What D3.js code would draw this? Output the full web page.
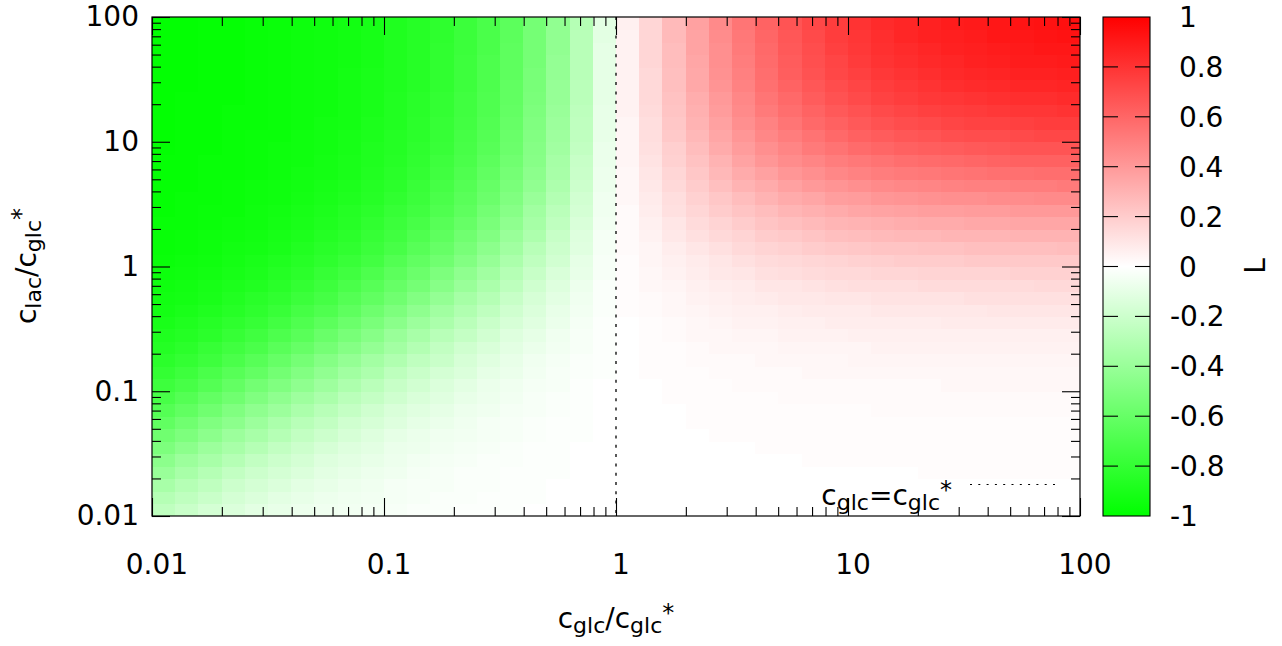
<!DOCTYPE html>
<html>
<head>
<meta charset="utf-8">
<script src="https://cdn.jsdelivr.net/npm/d3@7"></script>
<style>
  body { margin: 0; background: #fff; }
  text { font-family: "DejaVu Sans", sans-serif; fill: #000; white-space: pre; }
</style>
</head>
<body>
<script>
// cell edges, shared by c_glc/c_glc* (x) and c_lac/c_glc* (y), 0.1 decade each
var cellEdges = [0.01, 0.01259, 0.01585, 0.01995, 0.02512, 0.03162, 0.03981, 0.05012, 0.06310, 0.07943,
  0.1, 0.1259, 0.1585, 0.1995, 0.2512, 0.3162, 0.3981, 0.5012, 0.6310, 0.7943,
  1, 1.259, 1.585, 1.995, 2.512, 3.162, 3.981, 5.012, 6.310, 7.943,
  10, 12.59, 15.85, 19.95, 25.12, 31.62, 39.81, 50.12, 63.10, 79.43, 100];

var xTickValues = [0.01, 0.1, 1, 10, 100];
var xTickLabels = [" 0.01", " 0.1", " 1", " 10", " 100"];
var yTickValues = [0.01, 0.1, 1, 10, 100];
var yTickLabels = [" 0.01", " 0.1", " 1", " 10", " 100"];
var cbTickValues = [-1, -0.8, -0.6, -0.4, -0.2, 0, 0.2, 0.4, 0.6, 0.8, 1];
var cbTickLabels = ["-1", "-0.8", "-0.6", "-0.4", "-0.2", " 0", " 0.2", " 0.4", " 0.6", " 0.8", " 1"];

// L, one array per x column (left to right), values bottom to top
var Lcols = [
  [-.25,-.29,-.34,-.40,-.45,-.51,-.56,-.62,-.67,-.72,-.76,-.80,-.83,-.86,-.88,-.90,-.92,-.93,-.94,-.95,-.96,-.97,-.97,-.97,-.98,-.98,-.98,-.98,-.98,-.99,-.99,-.99,-.99,-.99,-.99,-.99,-.99,-.99,-.99,-.99],
  [-.21,-.25,-.29,-.34,-.39,-.45,-.51,-.56,-.62,-.67,-.72,-.76,-.80,-.83,-.86,-.88,-.90,-.92,-.93,-.94,-.95,-.96,-.96,-.97,-.97,-.97,-.98,-.98,-.98,-.98,-.98,-.98,-.98,-.98,-.99,-.99,-.99,-.99,-.99,-.99],
  [-.17,-.21,-.25,-.29,-.34,-.39,-.45,-.50,-.56,-.61,-.67,-.71,-.76,-.79,-.83,-.85,-.88,-.90,-.91,-.93,-.94,-.95,-.95,-.96,-.96,-.97,-.97,-.97,-.97,-.98,-.98,-.98,-.98,-.98,-.98,-.98,-.98,-.98,-.98,-.98],
  [-.14,-.17,-.20,-.24,-.29,-.34,-.39,-.45,-.50,-.56,-.61,-.66,-.71,-.75,-.79,-.82,-.85,-.87,-.89,-.91,-.92,-.93,-.94,-.95,-.96,-.96,-.96,-.97,-.97,-.97,-.97,-.97,-.97,-.98,-.98,-.98,-.98,-.98,-.98,-.98],
  [-.11,-.14,-.17,-.20,-.24,-.29,-.34,-.39,-.44,-.50,-.55,-.61,-.66,-.71,-.75,-.79,-.82,-.84,-.87,-.89,-.90,-.92,-.93,-.94,-.94,-.95,-.95,-.96,-.96,-.96,-.96,-.97,-.97,-.97,-.97,-.97,-.97,-.97,-.97,-.97],
  [-.09,-.11,-.14,-.17,-.20,-.24,-.29,-.33,-.39,-.44,-.50,-.55,-.60,-.65,-.70,-.74,-.78,-.81,-.84,-.86,-.88,-.90,-.91,-.92,-.93,-.94,-.94,-.95,-.95,-.95,-.96,-.96,-.96,-.96,-.96,-.96,-.96,-.96,-.96,-.96],
  [-.07,-.09,-.11,-.14,-.17,-.20,-.24,-.28,-.33,-.38,-.44,-.49,-.54,-.60,-.65,-.69,-.73,-.77,-.80,-.83,-.85,-.87,-.89,-.90,-.91,-.92,-.93,-.93,-.94,-.94,-.94,-.95,-.95,-.95,-.95,-.95,-.95,-.95,-.95,-.95],
  [-.06,-.07,-.09,-.11,-.13,-.16,-.20,-.24,-.28,-.33,-.38,-.43,-.48,-.54,-.59,-.64,-.69,-.73,-.76,-.79,-.82,-.84,-.86,-.88,-.89,-.90,-.91,-.92,-.92,-.93,-.93,-.93,-.94,-.94,-.94,-.94,-.94,-.94,-.94,-.94],
  [-.05,-.06,-.07,-.09,-.11,-.13,-.16,-.19,-.23,-.27,-.32,-.37,-.42,-.48,-.53,-.58,-.63,-.67,-.71,-.75,-.78,-.81,-.83,-.85,-.86,-.88,-.89,-.90,-.90,-.91,-.91,-.92,-.92,-.92,-.92,-.92,-.93,-.93,-.93,-.93],
  [-.04,-.05,-.06,-.07,-.09,-.11,-.13,-.16,-.19,-.23,-.27,-.32,-.36,-.42,-.47,-.52,-.57,-.62,-.66,-.70,-.74,-.77,-.79,-.81,-.83,-.85,-.86,-.87,-.88,-.88,-.89,-.89,-.90,-.90,-.90,-.90,-.91,-.91,-.91,-.91],
  [-.03,-.04,-.04,-.06,-.07,-.08,-.10,-.13,-.15,-.19,-.22,-.26,-.31,-.36,-.40,-.46,-.51,-.56,-.60,-.64,-.68,-.72,-.75,-.77,-.79,-.81,-.83,-.84,-.85,-.86,-.86,-.87,-.87,-.87,-.88,-.88,-.88,-.88,-.88,-.88],
  [-.02,-.03,-.03,-.04,-.05,-.07,-.08,-.10,-.12,-.15,-.18,-.21,-.25,-.30,-.34,-.39,-.44,-.49,-.54,-.58,-.62,-.66,-.69,-.72,-.75,-.77,-.78,-.80,-.81,-.82,-.83,-.83,-.84,-.84,-.85,-.85,-.85,-.85,-.85,-.85],
  [-.02,-.02,-.03,-.03,-.04,-.05,-.06,-.08,-.10,-.12,-.14,-.17,-.21,-.24,-.28,-.33,-.37,-.42,-.47,-.51,-.56,-.60,-.63,-.66,-.69,-.71,-.73,-.75,-.76,-.78,-.79,-.79,-.80,-.80,-.81,-.81,-.81,-.81,-.82,-.82],
  [-.01,-.02,-.02,-.02,-.03,-.04,-.05,-.06,-.07,-.09,-.11,-.14,-.16,-.19,-.23,-.27,-.31,-.35,-.40,-.44,-.49,-.53,-.56,-.60,-.63,-.65,-.67,-.69,-.71,-.72,-.73,-.74,-.75,-.75,-.76,-.76,-.76,-.77,-.77,-.77],
  [-.01,-.01,-.02,-.02,-.02,-.03,-.04,-.04,-.06,-.07,-.08,-.10,-.12,-.15,-.18,-.21,-.25,-.29,-.33,-.37,-.41,-.45,-.49,-.52,-.55,-.58,-.60,-.62,-.64,-.66,-.67,-.68,-.69,-.69,-.70,-.70,-.70,-.71,-.71,-.71],
  [-.01,-.01,-.01,-.01,-.02,-.02,-.03,-.03,-.04,-.05,-.06,-.08,-.09,-.11,-.13,-.16,-.19,-.22,-.26,-.29,-.33,-.37,-.40,-.44,-.47,-.50,-.52,-.54,-.56,-.58,-.59,-.60,-.61,-.62,-.62,-.63,-.63,-.63,-.64,-.64],
  [0,-.01,-.01,-.01,-.01,-.01,-.02,-.02,-.03,-.03,-.04,-.05,-.06,-.08,-.10,-.12,-.14,-.16,-.19,-.22,-.25,-.28,-.32,-.35,-.37,-.40,-.43,-.45,-.47,-.48,-.49,-.50,-.51,-.52,-.53,-.53,-.54,-.54,-.54,-.54],
  [0,0,0,-.01,-.01,-.01,-.01,-.01,-.02,-.02,-.03,-.03,-.04,-.05,-.06,-.08,-.09,-.11,-.13,-.15,-.18,-.20,-.22,-.25,-.27,-.30,-.32,-.34,-.35,-.37,-.38,-.39,-.40,-.41,-.41,-.42,-.42,-.43,-.43,-.43],
  [0,0,0,0,0,0,-.01,-.01,-.01,-.01,-.01,-.02,-.02,-.03,-.03,-.04,-.05,-.06,-.07,-.09,-.10,-.12,-.13,-.15,-.17,-.18,-.20,-.21,-.22,-.24,-.25,-.25,-.26,-.27,-.27,-.28,-.28,-.28,-.28,-.29],
  [0,0,0,0,0,0,0,0,0,0,0,-.01,-.01,-.01,-.01,-.01,-.02,-.02,-.02,-.03,-.03,-.04,-.04,-.05,-.06,-.06,-.07,-.07,-.08,-.08,-.09,-.09,-.09,-.10,-.10,-.10,-.10,-.10,-.11,-.11],
  [0,0,0,0,0,0,0,0,0,0,0,0,0,0,0,0,.01,.01,.01,.01,.01,.02,.02,.02,.02,.03,.03,.03,.04,.04,.04,.04,.05,.05,.05,.05,.05,.05,.05,.06],
  [0,0,0,0,0,0,0,0,0,0,0,.01,.01,.01,.01,.01,.02,.02,.03,.03,.04,.04,.05,.06,.07,.08,.09,.10,.11,.12,.13,.13,.14,.15,.15,.15,.16,.16,.16,.16],
  [0,0,0,0,0,0,0,0,0,.01,.01,.01,.01,.01,.02,.02,.03,.03,.04,.05,.06,.07,.09,.10,.12,.13,.15,.16,.18,.19,.21,.22,.23,.24,.25,.25,.26,.26,.27,.27],
  [0,0,0,0,0,0,0,.01,.01,.01,.01,.01,.02,.02,.03,.03,.04,.05,.06,.07,.08,.10,.12,.14,.16,.18,.20,.22,.24,.26,.28,.30,.31,.32,.34,.34,.35,.36,.36,.37],
  [0,0,0,0,0,0,.01,.01,.01,.01,.01,.02,.02,.03,.03,.04,.05,.06,.07,.09,.10,.12,.15,.17,.20,.22,.25,.28,.30,.33,.35,.37,.39,.40,.42,.43,.44,.44,.45,.46],
  [0,0,0,0,0,0,.01,.01,.01,.01,.02,.02,.02,.03,.04,.05,.06,.07,.08,.10,.12,.15,.17,.20,.23,.26,.30,.33,.36,.39,.41,.44,.46,.47,.49,.50,.51,.52,.53,.54],
  [0,0,0,0,0,.01,.01,.01,.01,.01,.02,.02,.03,.03,.04,.05,.06,.08,.10,.12,.14,.17,.20,.23,.26,.30,.33,.37,.41,.44,.47,.49,.52,.54,.56,.57,.58,.59,.60,.61],
  [0,0,0,0,0,.01,.01,.01,.01,.02,.02,.02,.03,.04,.05,.06,.07,.09,.10,.13,.15,.18,.21,.25,.29,.33,.37,.41,.45,.48,.51,.54,.57,.59,.61,.63,.64,.65,.66,.67],
  [0,0,0,0,.01,.01,.01,.01,.01,.02,.02,.03,.03,.04,.05,.06,.08,.09,.11,.14,.16,.20,.23,.27,.31,.35,.40,.44,.48,.52,.55,.59,.61,.64,.66,.68,.69,.70,.71,.72],
  [0,0,0,0,.01,.01,.01,.01,.01,.02,.02,.03,.03,.04,.05,.07,.08,.10,.12,.15,.17,.21,.25,.29,.33,.38,.42,.47,.51,.55,.59,.62,.65,.68,.70,.72,.73,.75,.76,.76],
  [0,0,0,0,.01,.01,.01,.01,.01,.02,.02,.03,.04,.04,.06,.07,.08,.10,.13,.15,.18,.22,.26,.30,.35,.39,.44,.49,.53,.58,.62,.65,.68,.71,.73,.75,.77,.78,.79,.80],
  [0,0,0,0,.01,.01,.01,.01,.02,.02,.02,.03,.04,.05,.06,.07,.09,.11,.13,.16,.19,.23,.27,.31,.36,.41,.46,.51,.55,.60,.64,.68,.71,.74,.76,.78,.80,.81,.82,.83],
  [0,0,0,0,.01,.01,.01,.01,.02,.02,.02,.03,.04,.05,.06,.07,.09,.11,.13,.16,.20,.23,.28,.32,.37,.42,.47,.52,.57,.62,.66,.70,.73,.76,.78,.80,.82,.83,.85,.85],
  [0,0,0,.01,.01,.01,.01,.01,.02,.02,.02,.03,.04,.05,.06,.07,.09,.11,.14,.17,.20,.24,.28,.33,.38,.43,.48,.53,.58,.63,.67,.71,.75,.78,.80,.82,.84,.85,.87,.87],
  [0,0,0,.01,.01,.01,.01,.01,.02,.02,.03,.03,.04,.05,.06,.08,.09,.11,.14,.17,.20,.24,.29,.33,.38,.44,.49,.54,.59,.64,.69,.73,.76,.79,.82,.84,.85,.87,.88,.89],
  [0,0,0,.01,.01,.01,.01,.01,.02,.02,.03,.03,.04,.05,.06,.08,.09,.12,.14,.17,.21,.25,.29,.34,.39,.44,.50,.55,.60,.65,.70,.74,.77,.80,.83,.85,.87,.88,.89,.90],
  [0,0,0,.01,.01,.01,.01,.01,.02,.02,.03,.03,.04,.05,.06,.08,.10,.12,.14,.17,.21,.25,.29,.34,.39,.45,.50,.56,.61,.66,.70,.74,.78,.81,.84,.86,.88,.89,.91,.91],
  [0,0,0,.01,.01,.01,.01,.01,.02,.02,.03,.03,.04,.05,.06,.08,.10,.12,.14,.18,.21,.25,.30,.35,.40,.45,.51,.56,.62,.67,.71,.75,.79,.82,.85,.87,.89,.90,.91,.92],
  [0,0,0,.01,.01,.01,.01,.01,.02,.02,.03,.03,.04,.05,.06,.08,.10,.12,.15,.18,.21,.25,.30,.35,.40,.46,.51,.57,.62,.67,.72,.76,.79,.82,.85,.87,.89,.91,.92,.93],
  [0,0,0,.01,.01,.01,.01,.01,.02,.02,.03,.03,.04,.05,.06,.08,.10,.12,.15,.18,.21,.26,.30,.35,.40,.46,.52,.57,.62,.67,.72,.76,.80,.83,.86,.88,.90,.91,.93,.94]
];

var W = 1282, H = 646;
var plotLeft = 152, plotRight = 1080, plotTop = 17, plotBottom = 516;
var fs = 28;

var svg = d3.select("body").append("svg")
    .attr("width", W)
    .attr("height", H);

var x = d3.scaleLog().domain([0.01, 100]).range([plotLeft, plotRight]);
var y = d3.scaleLog().domain([0.01, 100]).range([plotBottom, plotTop]);
var color = d3.scaleLinear().domain([-1, 0, 1]).range(["#00ff00", "#ffffff", "#ff0000"]);

svg.append("clipPath").attr("id", "plotclip")
  .append("rect")
    .attr("x", plotLeft).attr("y", plotTop)
    .attr("width", plotRight - plotLeft).attr("height", plotBottom - plotTop);

// heat map cells
var cells = [];
Lcols.forEach(function(col, i) {
  col.forEach(function(v, j) { cells.push({i: i, j: j, v: v}); });
});

svg.append("g")
    .attr("clip-path", "url(#plotclip)")
  .selectAll("rect")
  .data(cells)
  .enter().append("rect")
    .attr("x", function(d) { return x(cellEdges[d.i]); })
    .attr("width", function(d) { return x(cellEdges[d.i + 1]) - x(cellEdges[d.i]) + 0.6; })
    .attr("y", function(d) { return y(cellEdges[d.j + 1]); })
    .attr("height", function(d) { return y(cellEdges[d.j]) - y(cellEdges[d.j + 1]) + 0.6; })
    .attr("fill", function(d) { return color(d.v); })
    .attr("shape-rendering", "crispEdges");

// minor tick positions 2..9 per decade
var minorTicks = [];
[0.01, 0.1, 1, 10].forEach(function(dec) {
  for (var m = 2; m <= 9; m++) minorTicks.push(m * dec);
});

function styleAxis(g) {
  g.select(".domain").remove();
  g.selectAll("line").attr("stroke", "#000").attr("stroke-width", 1.1);
  g.selectAll("text").attr("font-size", fs + "px").attr("font-family", "DejaVu Sans, sans-serif");
}

// axis-x bottom
svg.append("g")
    .attr("transform", "translate(0," + plotBottom + ")")
    .call(d3.axisBottom(x).tickValues(xTickValues)
      .tickFormat(function(d, i) { return xTickLabels[i]; })
      .tickSizeInner(-18).tickSizeOuter(0).tickPadding(38))
    .call(styleAxis);
svg.append("g")
    .attr("transform", "translate(0," + plotBottom + ")")
    .call(d3.axisBottom(x).tickValues(minorTicks).tickFormat("").tickSizeInner(-9).tickSizeOuter(0))
    .call(styleAxis);
// axis-x top (mirror)
svg.append("g")
    .attr("transform", "translate(0," + plotTop + ")")
    .call(d3.axisTop(x).tickValues(xTickValues).tickFormat("").tickSizeInner(-18).tickSizeOuter(0))
    .call(styleAxis);
svg.append("g")
    .attr("transform", "translate(0," + plotTop + ")")
    .call(d3.axisTop(x).tickValues(minorTicks).tickFormat("").tickSizeInner(-9).tickSizeOuter(0))
    .call(styleAxis);

// axis-y left
svg.append("g")
    .attr("transform", "translate(" + plotLeft + ",0)")
    .call(d3.axisLeft(y).tickValues(yTickValues)
      .tickFormat(function(d, i) { return yTickLabels[i]; })
      .tickSizeInner(-18).tickSizeOuter(0).tickPadding(13))
    .call(styleAxis);
svg.append("g")
    .attr("transform", "translate(" + plotLeft + ",0)")
    .call(d3.axisLeft(y).tickValues(minorTicks).tickFormat("").tickSizeInner(-9).tickSizeOuter(0))
    .call(styleAxis);
// axis-y right (mirror)
svg.append("g")
    .attr("transform", "translate(" + plotRight + ",0)")
    .call(d3.axisRight(y).tickValues(yTickValues).tickFormat("").tickSizeInner(-18).tickSizeOuter(0))
    .call(styleAxis);
svg.append("g")
    .attr("transform", "translate(" + plotRight + ",0)")
    .call(d3.axisRight(y).tickValues(minorTicks).tickFormat("").tickSizeInner(-9).tickSizeOuter(0))
    .call(styleAxis);

// c_glc = c_glc* line
svg.append("line")
    .attr("x1", x(1)).attr("x2", x(1))
    .attr("y1", plotTop).attr("y2", plotBottom)
    .attr("stroke", "#000")
    .attr("stroke-width", 1.3)
    .attr("stroke-dasharray", "3,6.3");

// border
svg.append("rect")
    .attr("x", plotLeft).attr("y", plotTop)
    .attr("width", plotRight - plotLeft).attr("height", plotBottom - plotTop)
    .attr("fill", "none").attr("stroke", "#000").attr("stroke-width", 1.2);

// key
var key = svg.append("text")
    .attr("x", 952).attr("y", 505)
    .attr("text-anchor", "end")
    .attr("font-size", fs + "px");
key.append("tspan").text("c");
key.append("tspan").attr("font-size", "22px").attr("dy", 5).text("glc");
key.append("tspan").attr("dy", -5).text("=c");
key.append("tspan").attr("font-size", "22px").attr("dy", 5).text("glc");
key.append("tspan").attr("font-size", "24px").attr("dy", -12).text("*");
svg.append("line")
    .attr("x1", 970).attr("x2", 1058)
    .attr("y1", 484.5).attr("y2", 484.5)
    .attr("stroke", "#000")
    .attr("stroke-width", 1)
    .attr("stroke-dasharray", "2,6.3");

// axis titles
var xt = svg.append("text")
    .attr("x", 616).attr("y", 628)
    .attr("text-anchor", "middle")
    .attr("font-size", fs + "px");
xt.append("tspan").text("c");
xt.append("tspan").attr("font-size", "22px").attr("dy", 5).text("glc");
xt.append("tspan").attr("dy", -5).text("/c");
xt.append("tspan").attr("font-size", "22px").attr("dy", 5).text("glc");
xt.append("tspan").attr("font-size", "24px").attr("dy", -12).text("*");

var yt = svg.append("text")
    .attr("transform", "translate(36,266) rotate(-90)")
    .attr("text-anchor", "middle")
    .attr("font-size", fs + "px");
yt.append("tspan").text("c");
yt.append("tspan").attr("font-size", "22px").attr("dy", 5).text("lac");
yt.append("tspan").attr("dy", -5).text("/c");
yt.append("tspan").attr("font-size", "22px").attr("dy", 5).text("glc");
yt.append("tspan").attr("font-size", "24px").attr("dy", -12).text("*");

// colour box
var cbLeft = 1103, cbRight = 1150;
var cb = d3.scaleLinear().domain([-1, 1]).range([plotBottom, plotTop]);
var grad = svg.append("defs").append("linearGradient")
    .attr("id", "cbgrad")
    .attr("x1", 0).attr("y1", 1).attr("x2", 0).attr("y2", 0);
[-1, 0, 1].forEach(function(v) {
  grad.append("stop")
      .attr("offset", (v + 1) / 2)
      .attr("stop-color", color(v));
});
svg.append("rect")
    .attr("x", cbLeft).attr("y", plotTop)
    .attr("width", cbRight - cbLeft).attr("height", plotBottom - plotTop)
    .attr("fill", "url(#cbgrad)")
    .attr("stroke", "#000").attr("stroke-width", 1.1);

var cbt = svg.append("g").selectAll("g")
  .data(cbTickValues)
  .enter().append("g");
cbt.filter(function(d) { return d > -1 && d < 1; }).append("line")
    .attr("x1", cbLeft).attr("x2", cbLeft + 15)
    .attr("y1", function(d) { return cb(d); }).attr("y2", function(d) { return cb(d); })
    .attr("stroke", "#000").attr("stroke-width", 1.1);
cbt.filter(function(d) { return d > -1 && d < 1; }).append("line")
    .attr("x1", cbRight - 15).attr("x2", cbRight)
    .attr("y1", function(d) { return cb(d); }).attr("y2", function(d) { return cb(d); })
    .attr("stroke", "#000").attr("stroke-width", 1.1);
cbt.append("text")
    .attr("x", 1170)
    .attr("y", function(d) { return cb(d); })
    .attr("dy", "0.36em")
    .attr("font-size", fs + "px")
    .text(function(d, i) { return cbTickLabels[i]; });

svg.append("text")
    .attr("transform", "translate(1265,266) rotate(-90)")
    .attr("text-anchor", "middle")
    .attr("font-size", fs + "px")
    .text("L");
</script>
</body>
</html>
